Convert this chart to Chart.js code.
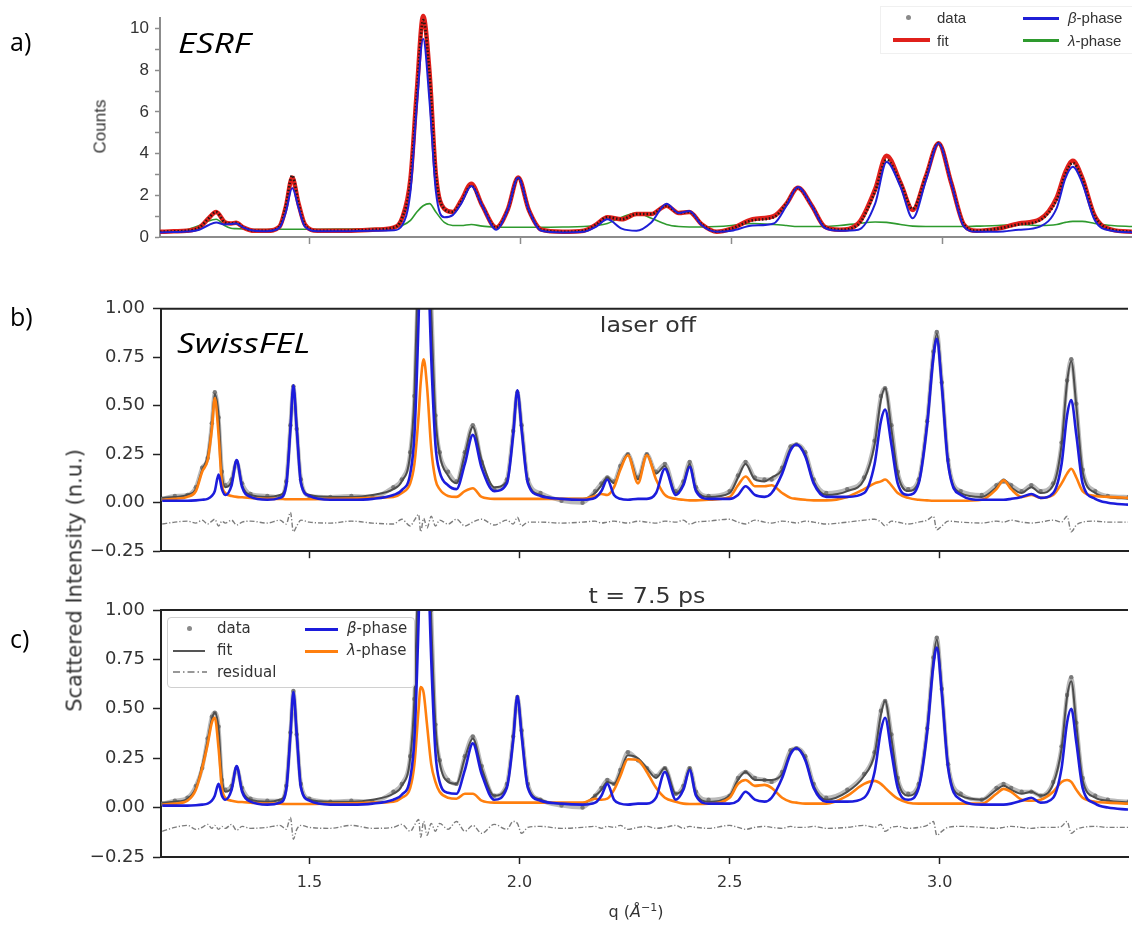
<!DOCTYPE html>
<html>
<head>
<meta charset="utf-8">
<script src="https://cdn.jsdelivr.net/npm/chart.js@4.4.1/dist/chart.umd.min.js"></script>
<style>
  html, body { margin: 0; padding: 0; background: #fff; }
  #page { position: relative; width: 1132px; height: 928px; overflow: hidden; font-family: "DejaVu Sans", sans-serif; color: #333; }
  canvas { position: absolute; left: 0; }
  .txt { position: absolute; white-space: nowrap; line-height: 1; }
  .lbl { font-family: "Open Sans", sans-serif; font-size: 25px; color: #000; }
  .site { font-family: "Open Sans", sans-serif; font-style: italic; font-size: 28px; color: #000; transform: scaleX(1.25); transform-origin: left center; }
  .sw { position: absolute; }
  .dot { position: absolute; width: 5px; height: 5px; border-radius: 50%; background: #8a8a8a; }
</style>
</head>
<body>
<div id="page">
  <canvas id="chartA" width="1132" height="262" style="top:0"></canvas>
  <canvas id="chartB" width="1132" height="280" style="top:290px"></canvas>
  <canvas id="chartC" width="1132" height="338" style="top:590px"></canvas>

  <div class="txt lbl" style="left:10px; top:29px">a)</div>
  <div class="txt lbl" style="left:10px; top:304px">b)</div>
  <div class="txt lbl" style="left:10px; top:626px">c)</div>
  <div class="txt site" style="left:178px; top:28px">ESRF</div>
  <div class="txt site" style="left:177px; top:328px">SwissFEL</div>
  <div class="txt" style="left:548px; width:200px; text-align:center; top:315px; font-size:21px; transform:scaleX(1.13)">laser off</div>
  <div class="txt" style="left:547px; width:200px; text-align:center; top:586px; font-size:21px; transform:scaleX(1.13)">t = 7.5 ps</div>

  <div class="txt" style="left:50px; width:100px; text-align:center; top:118px; font-family:'Liberation Sans',sans-serif; font-size:17px; transform:rotate(-90deg)">Counts</div>
  <div class="txt" style="left:-125px; width:400px; text-align:center; top:570px; font-size:21px; transform:rotate(-90deg)">Scattered Intensity (n.u.)</div>
  <div class="txt" style="left:536px; width:200px; text-align:center; top:902px; font-size:16px">q (<i>Å</i><sup style="font-size:11px">−1</sup>)</div>

  <!-- legend panel a -->
  <div style="position:absolute; left:880px; top:6px; width:252px; height:46px; border:1px solid #f0f0f0; background:rgba(255,255,255,0.85)"></div>
  <div class="dot" style="left:906px; top:15px"></div>
  <div class="txt" style="left:937px; top:10px; font-family:'Liberation Sans',sans-serif; font-size:15px">data</div>
  <div class="sw" style="left:893px; top:38px; width:37px; height:4px; background:#e0201b"></div>
  <div class="txt" style="left:937px; top:33px; font-family:'Liberation Sans',sans-serif; font-size:15px">fit</div>
  <div class="sw" style="left:1023px; top:17px; width:36px; height:3px; background:#1f1fd6"></div>
  <div class="txt" style="left:1068px; top:10px; font-family:'Liberation Sans',sans-serif; font-size:15px"><i>β</i>-phase</div>
  <div class="sw" style="left:1023px; top:39px; width:36px; height:3px; background:#2e9a2e"></div>
  <div class="txt" style="left:1068px; top:33px; font-family:'Liberation Sans',sans-serif; font-size:15px"><i>λ</i>-phase</div>

  <!-- legend panel c -->
  <div style="position:absolute; left:167px; top:617px; width:246px; height:69px; border:1.5px solid #d0d0d0; border-radius:4px; background:rgba(255,255,255,0.8)"></div>
  <div class="dot" style="left:187px; top:626px"></div>
  <div class="txt" style="left:217px; top:621px; font-size:15px">data</div>
  <div class="sw" style="left:173px; top:650px; width:32px; height:2px; background:#555"></div>
  <div class="txt" style="left:217px; top:643px; font-size:15px">fit</div>
  <svg class="sw" style="left:173px; top:669px" width="34" height="6"><line x1="0" y1="3" x2="34" y2="3" stroke="#777" stroke-width="1.3" stroke-dasharray="7,3,1.5,3"/></svg>
  <div class="txt" style="left:217px; top:665px; font-size:15px">residual</div>
  <div class="sw" style="left:305px; top:628px; width:33px; height:3px; background:#1c1cdc"></div>
  <div class="txt" style="left:347px; top:621px; font-size:15px"><i>β</i>-phase</div>
  <div class="sw" style="left:305px; top:650px; width:33px; height:3px; background:#ff7f0e"></div>
  <div class="txt" style="left:347px; top:643px; font-size:15px"><i>λ</i>-phase</div>
</div>

<script>
// ---- panel a (ESRF) ----
const qA = [
  1.147, 1.18, 1.21, 1.24, 1.26, 1.28, 1.30, 1.315, 1.327, 1.345,
  1.37, 1.40, 1.43, 1.445, 1.46, 1.475, 1.49, 1.52, 1.58, 1.65,
  1.70, 1.72, 1.74, 1.755, 1.77, 1.785, 1.80, 1.82, 1.84, 1.86,
  1.884, 1.91, 1.943, 1.97, 1.995, 2.02, 2.05, 2.10, 2.15, 2.18,
  2.206, 2.24, 2.275, 2.31, 2.346, 2.375, 2.40, 2.43, 2.465, 2.50,
  2.55, 2.60, 2.63, 2.657, 2.69, 2.72, 2.756, 2.80, 2.84, 2.867,
  2.90, 2.929, 2.96, 2.99, 3.02, 3.05, 3.08, 3.13, 3.18, 3.23,
  3.27, 3.29, 3.308, 3.33, 3.36, 3.40, 3.45
];
const dataA = [
  0.25, 0.27, 0.3, 0.45, 0.85, 1.2, 0.7, 0.65, 0.68, 0.45,
  0.3, 0.3, 0.5, 1.5, 2.95, 1.6, 0.6, 0.3, 0.3, 0.35,
  0.45, 0.9, 2.7, 6.8, 10.4, 7.8, 3.0, 1.35, 1.2, 1.7,
  2.45, 1.5, 0.45, 1.3, 2.85, 1.3, 0.35, 0.25, 0.3, 0.6,
  0.95, 0.85, 1.1, 1.1, 1.5, 1.15, 1.2, 0.6, 0.25, 0.4,
  0.8, 0.95, 1.6, 2.36, 1.5, 0.5, 0.35, 0.6, 2.2, 3.7,
  2.6, 1.35, 2.9, 4.5, 2.6, 0.6, 0.3, 0.4, 0.6, 0.8,
  1.8, 3.0, 3.55, 2.8, 1.0, 0.35, 0.25
];
const fitA = [
  0.25, 0.27, 0.3, 0.45, 0.85, 1.2, 0.72, 0.65, 0.68, 0.45,
  0.3, 0.3, 0.5, 1.45, 2.85, 1.6, 0.6, 0.3, 0.3, 0.35,
  0.45, 0.9, 2.8, 7.0, 10.6, 7.9, 3.0, 1.35, 1.2, 1.75,
  2.55, 1.5, 0.45, 1.3, 2.85, 1.3, 0.35, 0.25, 0.3, 0.6,
  0.95, 0.85, 1.1, 1.1, 1.5, 1.15, 1.2, 0.6, 0.25, 0.4,
  0.85, 1.0, 1.6, 2.36, 1.5, 0.5, 0.35, 0.65, 2.3, 3.9,
  2.6, 1.3, 2.9, 4.5, 2.6, 0.6, 0.3, 0.4, 0.65, 0.85,
  1.9, 3.1, 3.65, 2.85, 1.0, 0.35, 0.25
];
const betaA = [
  0.22, 0.24, 0.26, 0.35, 0.55, 0.7, 0.6, 0.62, 0.65, 0.45,
  0.3, 0.28, 0.45, 1.2, 2.35, 1.4, 0.5, 0.28, 0.28, 0.3,
  0.32, 0.55, 2.2, 6.3, 9.5, 6.5, 2.2, 0.95, 1.05, 1.6,
  2.45, 1.5, 0.35, 1.3, 2.85, 1.3, 0.3, 0.22, 0.25, 0.5,
  0.85, 0.4, 0.3, 0.7, 1.6, 1.15, 1.25, 0.55, 0.25, 0.3,
  0.55, 0.65, 1.5, 2.4, 1.5, 0.45, 0.3, 0.35, 1.6, 3.6,
  2.4, 0.9, 2.7, 4.5, 2.6, 0.5, 0.25, 0.25, 0.35, 0.5,
  1.4, 2.8, 3.37, 2.6, 0.8, 0.3, 0.22
];
const lambdaA = [
  0.25, 0.28, 0.35, 0.55, 0.75, 0.85, 0.55, 0.42, 0.4, 0.38,
  0.36, 0.36, 0.37, 0.37, 0.37, 0.37, 0.37, 0.37, 0.38, 0.4,
  0.45, 0.55, 0.8, 1.2, 1.5, 1.6, 1.2, 0.7, 0.55, 0.55,
  0.6, 0.52, 0.48, 0.47, 0.47, 0.47, 0.47, 0.48, 0.5, 0.55,
  0.65, 0.95, 1.15, 0.9, 0.6, 0.5, 0.48, 0.48, 0.5, 0.55,
  0.65, 0.6, 0.55, 0.5, 0.5, 0.5, 0.55, 0.65, 0.72, 0.7,
  0.6, 0.52, 0.5, 0.5, 0.5, 0.5, 0.52, 0.55, 0.6, 0.55,
  0.6, 0.7, 0.75, 0.75, 0.65, 0.55, 0.5
];

// ---- panels b and c (SwissFEL), shared q grid ----
const qB = [
  1.15, 1.18, 1.21, 1.23, 1.245, 1.258, 1.268, 1.275, 1.284, 1.292,
  1.30, 1.315, 1.327, 1.34, 1.36, 1.40, 1.43, 1.445, 1.455, 1.462,
  1.47, 1.48, 1.50, 1.55, 1.60, 1.65, 1.70, 1.72, 1.74, 1.75,
  1.76, 1.765, 1.772, 1.78, 1.79, 1.80, 1.81, 1.83, 1.85, 1.87,
  1.889, 1.91, 1.94, 1.97, 1.985, 1.995, 2.005, 2.02, 2.05, 2.10,
  2.15, 2.18, 2.195, 2.209, 2.225, 2.24, 2.258, 2.282, 2.303, 2.325,
  2.346, 2.372, 2.39, 2.405, 2.42, 2.45, 2.50, 2.52, 2.538, 2.56,
  2.583, 2.60, 2.625, 2.645, 2.659, 2.68, 2.70, 2.73, 2.78, 2.82,
  2.845, 2.86, 2.87, 2.885, 2.90, 2.925, 2.95, 2.97, 2.985, 2.993,
  3.005, 3.02, 3.05, 3.10, 3.135, 3.152, 3.17, 3.195, 3.218, 3.24,
  3.27, 3.29, 3.303, 3.313, 3.325, 3.34, 3.37, 3.40, 3.45
];

// laser off
const dataB = [
  0.02, 0.035, 0.04, 0.08, 0.18, 0.23, 0.41, 0.57, 0.44, 0.16,
  0.09, 0.12, 0.21, 0.1, 0.045, 0.035, 0.03, 0.11, 0.4, 0.6,
  0.38, 0.12, 0.035, 0.03, 0.035, 0.03, 0.08, 0.12, 0.26, 0.55,
  1.25, 1.7, 1.95, 1.75, 1.05, 0.45, 0.26, 0.16, 0.11, 0.26,
  0.4, 0.21, 0.07, 0.12, 0.37, 0.57, 0.4, 0.12, 0.05, 0.01,
  0.0, 0.06, 0.1, 0.13, 0.11, 0.19, 0.25, 0.13, 0.25, 0.16,
  0.2, 0.06, 0.11, 0.21, 0.08, 0.035, 0.06, 0.14, 0.21, 0.13,
  0.12, 0.12, 0.18, 0.29, 0.3, 0.26, 0.12, 0.05, 0.07, 0.13,
  0.32, 0.55, 0.59, 0.4, 0.16, 0.07, 0.12, 0.42, 0.78, 0.88,
  0.62, 0.22, 0.06, 0.04, 0.09, 0.11, 0.09, 0.06, 0.09, 0.06,
  0.1, 0.31, 0.63, 0.74, 0.51, 0.17, 0.06, 0.035, 0.03
];
const fitB = [
  0.025, 0.03, 0.04, 0.07, 0.17, 0.24, 0.4, 0.56, 0.45, 0.15,
  0.08, 0.11, 0.22, 0.09, 0.04, 0.03, 0.04, 0.1, 0.39, 0.6,
  0.39, 0.11, 0.04, 0.03, 0.03, 0.04, 0.07, 0.11, 0.25, 0.55,
  1.3, 1.8, 2.1, 1.8, 1.0, 0.45, 0.25, 0.14, 0.1, 0.25,
  0.39, 0.22, 0.08, 0.11, 0.36, 0.58, 0.39, 0.11, 0.04, 0.02,
  0.02, 0.05, 0.09, 0.13, 0.1, 0.18, 0.25, 0.12, 0.25, 0.15,
  0.19, 0.05, 0.1, 0.2, 0.07, 0.03, 0.05, 0.13, 0.2, 0.12,
  0.11, 0.13, 0.17, 0.28, 0.30, 0.25, 0.11, 0.04, 0.06, 0.12,
  0.3, 0.53, 0.59, 0.38, 0.15, 0.06, 0.11, 0.41, 0.77, 0.87,
  0.61, 0.21, 0.05, 0.03, 0.08, 0.12, 0.08, 0.05, 0.08, 0.05,
  0.09, 0.3, 0.62, 0.73, 0.5, 0.16, 0.05, 0.03, 0.02
];
const betaB = [
  0.01, 0.01, 0.01, 0.012, 0.015, 0.02, 0.035, 0.06, 0.145, 0.07,
  0.04, 0.09, 0.22, 0.08, 0.03, 0.015, 0.025, 0.09, 0.38, 0.605,
  0.38, 0.1, 0.035, 0.015, 0.015, 0.02, 0.04, 0.065, 0.15, 0.35,
  0.95, 1.4, 1.6, 1.4, 0.75, 0.3, 0.16, 0.09, 0.07, 0.2,
  0.35, 0.18, 0.06, 0.1, 0.35, 0.58, 0.38, 0.1, 0.035, 0.02,
  0.015, 0.025, 0.06, 0.12, 0.04, 0.02, 0.015, 0.02, 0.02, 0.05,
  0.175, 0.04, 0.09, 0.185, 0.06, 0.02, 0.02, 0.04, 0.085, 0.04,
  0.03, 0.05, 0.15, 0.27, 0.30, 0.24, 0.1, 0.03, 0.03, 0.05,
  0.2, 0.42, 0.48, 0.3, 0.1, 0.04, 0.1, 0.4, 0.75, 0.845,
  0.6, 0.2, 0.04, 0.015, 0.015, 0.015, 0.02, 0.03, 0.045, 0.025,
  0.05, 0.2, 0.45, 0.53, 0.35, 0.1, 0.02, 0.0, -0.01
];
const lambdaB = [
  0.015, 0.02, 0.03, 0.06, 0.16, 0.22, 0.38, 0.54, 0.35, 0.1,
  0.05, 0.035, 0.03, 0.028, 0.025, 0.02, 0.02, 0.018, 0.018, 0.018,
  0.018, 0.018, 0.018, 0.02, 0.022, 0.025, 0.03, 0.05, 0.1, 0.2,
  0.45, 0.62, 0.74, 0.6, 0.28, 0.12, 0.07, 0.035, 0.03, 0.06,
  0.075, 0.03, 0.02, 0.02, 0.02, 0.02, 0.02, 0.02, 0.02, 0.02,
  0.02, 0.035, 0.045, 0.04, 0.08, 0.17, 0.245, 0.1, 0.245, 0.12,
  0.04, 0.02, 0.015, 0.012, 0.012, 0.015, 0.03, 0.09, 0.135, 0.085,
  0.085, 0.09, 0.05, 0.025, 0.02, 0.015, 0.012, 0.012, 0.03, 0.07,
  0.1, 0.11, 0.12, 0.09, 0.05, 0.025, 0.015, 0.012, 0.01, 0.01,
  0.01, 0.01, 0.01, 0.015, 0.07, 0.115, 0.07, 0.03, 0.04, 0.025,
  0.04, 0.1, 0.15, 0.175, 0.13, 0.06, 0.035, 0.03, 0.025
];
const residB = [
  -0.11, -0.10, -0.095, -0.105, -0.09, -0.11, -0.095, -0.085, -0.12, -0.095,
  -0.105, -0.09, -0.115, -0.1, -0.095, -0.105, -0.09, -0.11, -0.05, -0.15,
  -0.12, -0.09, -0.1, -0.105, -0.095, -0.105, -0.11, -0.085, -0.12, -0.09,
  -0.06, -0.15, -0.08, -0.13, -0.07, -0.12, -0.09, -0.11, -0.085, -0.12,
  -0.1, -0.085, -0.115, -0.09, -0.11, -0.075, -0.12, -0.1, -0.1, -0.105,
  -0.1, -0.095, -0.105, -0.1, -0.095, -0.1, -0.105, -0.095, -0.1, -0.105,
  -0.095, -0.1, -0.09, -0.11, -0.1, -0.095, -0.085, -0.1, -0.11, -0.09,
  -0.1, -0.105, -0.095, -0.1, -0.105, -0.095, -0.1, -0.11, -0.1, -0.09,
  -0.085, -0.1, -0.12, -0.095, -0.1, -0.11, -0.1, -0.09, -0.07, -0.14,
  -0.12, -0.095, -0.1, -0.105, -0.095, -0.1, -0.09, -0.1, -0.105, -0.1,
  -0.09, -0.1, -0.07, -0.15, -0.115, -0.1, -0.095, -0.1, -0.1
];

// t = 7.5 ps
const dataC = [
  0.02, 0.035, 0.05, 0.11, 0.2, 0.35, 0.46, 0.48, 0.41, 0.14,
  0.09, 0.11, 0.2, 0.1, 0.045, 0.035, 0.035, 0.11, 0.38, 0.59,
  0.37, 0.12, 0.045, 0.03, 0.035, 0.03, 0.08, 0.12, 0.26, 0.55,
  1.2, 1.65, 1.85, 1.65, 1.0, 0.42, 0.24, 0.14, 0.12, 0.26,
  0.36, 0.21, 0.06, 0.12, 0.36, 0.56, 0.39, 0.12, 0.04, 0.01,
  0.0, 0.06, 0.1, 0.14, 0.12, 0.19, 0.28, 0.24, 0.2, 0.16,
  0.2, 0.07, 0.11, 0.2, 0.08, 0.04, 0.06, 0.15, 0.18, 0.15,
  0.14, 0.13, 0.18, 0.29, 0.3, 0.26, 0.12, 0.05, 0.09, 0.17,
  0.28, 0.49, 0.54, 0.37, 0.15, 0.07, 0.12, 0.4, 0.76, 0.86,
  0.6, 0.22, 0.07, 0.04, 0.1, 0.12, 0.1, 0.08, 0.08, 0.06,
  0.13, 0.31, 0.57, 0.66, 0.43, 0.15, 0.06, 0.04, 0.03
];
const fitC = [
  0.025, 0.03, 0.045, 0.1, 0.21, 0.34, 0.45, 0.48, 0.4, 0.15,
  0.08, 0.1, 0.21, 0.09, 0.04, 0.03, 0.04, 0.1, 0.38, 0.58,
  0.38, 0.11, 0.04, 0.03, 0.03, 0.04, 0.07, 0.11, 0.25, 0.55,
  1.25, 1.75, 1.95, 1.7, 0.95, 0.42, 0.23, 0.13, 0.12, 0.25,
  0.35, 0.2, 0.06, 0.11, 0.35, 0.565, 0.38, 0.11, 0.04, 0.02,
  0.02, 0.06, 0.09, 0.13, 0.12, 0.18, 0.265, 0.25, 0.2, 0.15,
  0.2, 0.07, 0.1, 0.2, 0.07, 0.03, 0.06, 0.14, 0.18, 0.14,
  0.14, 0.14, 0.17, 0.28, 0.30, 0.25, 0.11, 0.04, 0.08, 0.16,
  0.27, 0.47, 0.54, 0.35, 0.14, 0.06, 0.11, 0.39, 0.75, 0.85,
  0.59, 0.21, 0.06, 0.04, 0.09, 0.11, 0.09, 0.07, 0.08, 0.06,
  0.12, 0.3, 0.56, 0.64, 0.42, 0.14, 0.05, 0.035, 0.025
];
const betaC = [
  0.01, 0.01, 0.01, 0.012, 0.015, 0.02, 0.035, 0.06, 0.12, 0.06,
  0.04, 0.09, 0.21, 0.08, 0.03, 0.015, 0.025, 0.09, 0.37, 0.585,
  0.37, 0.1, 0.035, 0.015, 0.015, 0.02, 0.04, 0.065, 0.15, 0.35,
  0.95, 1.4, 1.6, 1.4, 0.75, 0.28, 0.13, 0.075, 0.07, 0.19,
  0.325, 0.17, 0.04, 0.1, 0.34, 0.565, 0.37, 0.1, 0.035, 0.02,
  0.015, 0.025, 0.06, 0.12, 0.04, 0.02, 0.015, 0.02, 0.02, 0.05,
  0.18, 0.04, 0.09, 0.19, 0.06, 0.02, 0.02, 0.035, 0.08, 0.04,
  0.03, 0.05, 0.15, 0.27, 0.30, 0.24, 0.1, 0.03, 0.03, 0.05,
  0.18, 0.39, 0.455, 0.28, 0.1, 0.04, 0.1, 0.38, 0.72, 0.81,
  0.58, 0.2, 0.04, 0.015, 0.015, 0.015, 0.02, 0.035, 0.05, 0.025,
  0.05, 0.2, 0.43, 0.5, 0.33, 0.1, 0.02, 0.0, -0.01
];
const lambdaC = [
  0.015, 0.02, 0.035, 0.09, 0.2, 0.32, 0.43, 0.455, 0.3, 0.1,
  0.05, 0.035, 0.03, 0.028, 0.025, 0.02, 0.02, 0.018, 0.018, 0.018,
  0.018, 0.018, 0.018, 0.02, 0.022, 0.025, 0.03, 0.05, 0.1, 0.22,
  0.5, 0.61, 0.58, 0.42, 0.22, 0.13, 0.08, 0.05, 0.045, 0.07,
  0.07, 0.035, 0.025, 0.025, 0.025, 0.025, 0.025, 0.025, 0.025, 0.025,
  0.025, 0.045, 0.04, 0.045, 0.09, 0.16, 0.245, 0.24, 0.18, 0.1,
  0.05, 0.03, 0.02, 0.018, 0.018, 0.02, 0.05, 0.12, 0.14, 0.11,
  0.115, 0.1, 0.05, 0.03, 0.025, 0.02, 0.02, 0.02, 0.06, 0.12,
  0.135, 0.12, 0.1, 0.07, 0.045, 0.025, 0.02, 0.02, 0.02, 0.02,
  0.02, 0.02, 0.02, 0.02, 0.07, 0.095, 0.08, 0.04, 0.035, 0.04,
  0.08, 0.13, 0.14, 0.13, 0.09, 0.05, 0.03, 0.025, 0.02
];
const residC = [
  -0.12, -0.1, -0.09, -0.11, -0.1, -0.085, -0.105, -0.09, -0.11, -0.095,
  -0.105, -0.085, -0.115, -0.095, -0.105, -0.1, -0.09, -0.11, -0.05, -0.16,
  -0.11, -0.09, -0.1, -0.105, -0.09, -0.105, -0.1, -0.085, -0.12, -0.09,
  -0.06, -0.15, -0.07, -0.14, -0.08, -0.12, -0.08, -0.11, -0.07, -0.12,
  -0.09, -0.13, -0.085, -0.11, -0.07, -0.08, -0.13, -0.1, -0.095, -0.105,
  -0.1, -0.095, -0.105, -0.095, -0.1, -0.09, -0.11, -0.1, -0.095, -0.105,
  -0.1, -0.09, -0.105, -0.095, -0.1, -0.105, -0.09, -0.1, -0.11, -0.1,
  -0.095, -0.1, -0.105, -0.095, -0.1, -0.1, -0.095, -0.105, -0.1, -0.09,
  -0.1, -0.085, -0.12, -0.1, -0.095, -0.105, -0.1, -0.09, -0.07, -0.14,
  -0.12, -0.1, -0.095, -0.1, -0.105, -0.1, -0.095, -0.1, -0.105, -0.1,
  -0.1, -0.095, -0.07, -0.13, -0.11, -0.1, -0.095, -0.1, -0.1
];

// axes
const qMin = 1.147;
const qMax = 3.448;
const xTicks = [1.5, 2.0, 2.5, 3.0];
const yTicksA = [0, 1, 2, 3, 4, 5, 6, 7, 8, 9, 10];
const yTicksBC = [-0.25, 0, 0.25, 0.5, 0.75, 1.0];

const pts = (xs, ys) => xs.map((x, i) => ({x: x, y: ys[i]}));

// trait du haut du cadre (panneaux b et c)
const topFrame = {
    id: 'topFrame',
    afterDraw(chart) {
        const {ctx, chartArea} = chart;
        ctx.save();
        ctx.strokeStyle = '#222';
        ctx.lineWidth = 2;
        ctx.beginPath();
        ctx.moveTo(chartArea.left - 1, chartArea.top);
        ctx.lineTo(chartArea.right, chartArea.top);
        ctx.stroke();
        ctx.restore();
    }
};

function curve(xs, ys, color, width, order, extra) {
    return Object.assign({
        data: pts(xs, ys),
        borderColor: color,
        borderWidth: width,
        pointRadius: 0,
        fill: false,
        cubicInterpolationMode: 'monotone',
        order: order
    }, extra || {});
}

function baseOptions(o) {
    return {
        responsive: false,
        animation: false,
        devicePixelRatio: 1,
        layout: {padding: {top: o.padTop, right: 0, left: 0, bottom: 0}},
        plugins: {legend: {display: false}, tooltip: {enabled: false}},
        scales: {
            x: {
                type: 'linear',
                min: qMin,
                max: qMax,
                afterFit: s => { s.height = o.xHeight; },
                afterBuildTicks: s => { s.ticks = xTicks.map(v => ({value: v})); },
                grid: {drawOnChartArea: false, drawTicks: true, tickLength: 7, tickColor: o.axisColor, tickWidth: 1.5},
                border: {color: o.axisColor, width: 2},
                ticks: {
                    display: o.xLabels,
                    autoSkip: false,
                    maxRotation: 0,
                    padding: 9,
                    color: '#333',
                    font: {family: 'DejaVu Sans', size: 16},
                    callback: v => v.toFixed(1)
                }
            },
            y: {
                min: o.yMin,
                max: o.yMax,
                afterFit: s => { s.width = o.yWidth; },
                afterBuildTicks: s => { s.ticks = o.yTicks.map(v => ({value: v})); },
                grid: {drawOnChartArea: false, drawTicks: true, tickLength: o.yTickLen, tickColor: o.axisColor, tickWidth: 1.5},
                border: {color: o.axisColor, width: 2},
                ticks: {
                    autoSkip: false,
                    padding: o.yPad,
                    color: '#333',
                    font: {family: o.yFont, size: o.yFontSize},
                    callback: o.yLabel
                }
            }
        }
    };
}

const fmt2 = v => v < 0 ? '\u2212' + Math.abs(v).toFixed(2) : v.toFixed(2);

// panel a : le pic principal dépasse un peu le haut de l'axe, pas de découpe
new Chart(document.getElementById('chartA'), {
    type: 'line',
    data: {
        datasets: [
            curve(qA, betaA, '#1f1fd6', 2, 0, {clip: 10}),
            curve(qA, dataA, 'rgba(20,20,20,0.9)', 2.6, 1, {borderDash: [1.5, 2], clip: 10}),
            curve(qA, fitA, '#e0201b', 4.5, 2, {clip: 10}),
            curve(qA, lambdaA, '#2e9a2e', 1.6, 3, {clip: 10})
        ]
    },
    options: baseOptions({
        padTop: 18, xHeight: 25, yWidth: 160, xLabels: false,
        yMin: 0, yMax: 10.5, yTicks: yTicksA, yTickLen: 5, yPad: 6,
        yFont: 'Liberation Sans', yFontSize: 17, axisColor: '#8c8c8c',
        yLabel: v => (v % 2 === 0 ? String(v) : '')
    })
});

function swissPanel(id, data, fit, beta, lambda, resid, padTop, xHeight, xLabels) {
    return new Chart(document.getElementById(id), {
        type: 'line',
        data: {
            datasets: [
                curve(qB, beta, '#1c1cdc', 2.6, 0),
                curve(qB, lambda, '#ff7f0e', 2.6, 1),
                curve(qB, fit, '#4d4d4d', 2, 2),
                curve(qB, data, 'rgba(130,130,130,0.55)', 4, 3,
                    {pointRadius: 2.2, pointBackgroundColor: 'rgba(110,110,110,0.85)', pointBorderWidth: 0}),
                curve(qB, resid, '#7d7d7d', 1.4, 4, {borderDash: [5, 2, 1.2, 2]})
            ]
        },
        options: baseOptions({
            padTop: padTop, xHeight: xHeight, yWidth: 161, xLabels: xLabels,
            yMin: -0.25, yMax: 1.0, yTicks: yTicksBC, yTickLen: 8, yPad: 8,
            yFont: 'DejaVu Sans', yFontSize: 18, axisColor: '#222',
            yLabel: fmt2
        }),
        plugins: [topFrame]
    });
}

swissPanel('chartB', dataB, fitB, betaB, lambdaB, residB, 18, 14, false);
swissPanel('chartC', dataC, fitC, betaC, lambdaC, residC, 20, 71, true);
</script>
</body>
</html>
